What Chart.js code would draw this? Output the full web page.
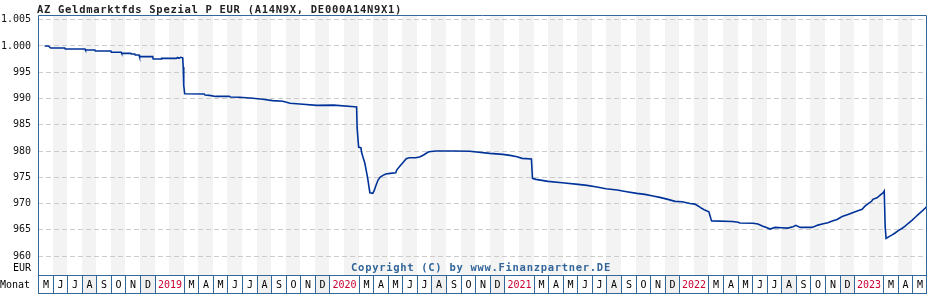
<!DOCTYPE html>
<html>
<head>
<meta charset="utf-8">
<script src="https://cdn.jsdelivr.net/npm/chart.js@4"></script>
<style>
html, body { margin: 0; padding: 0; background: #fff; }
canvas { display: block; }
</style>
</head>
<body>
<canvas id="chart" width="928" height="300"></canvas>
<script>
// DATEN
const title = "AZ Geldmarktfds Spezial P EUR (A14N9X, DE000A14N9X1)";
const copyright = "Copyright (C) by www.Finanzpartner.DE";

const dates = [
    "2018-05-15", "2018-05-23", "2018-05-28", "2018-06-26", "2018-06-27", "2018-08-08", "2018-08-09", "2018-08-29",
    "2018-08-30", "2018-10-01", "2018-10-02", "2018-10-23", "2018-10-24", "2018-11-12", "2018-11-13", "2018-11-20",
    "2018-11-21", "2018-11-29", "2018-11-30", "2018-12-28", "2018-12-29", "2019-01-15", "2019-01-16", "2019-02-15",
    "2019-02-17", "2019-02-20", "2019-02-23", "2019-02-27", "2019-02-28", "2019-03-01", "2019-03-03", "2019-04-13",
    "2019-04-15", "2019-04-24", "2019-05-07", "2019-06-05", "2019-06-07", "2019-06-26", "2019-07-24", "2019-08-14",
    "2019-09-04", "2019-09-25", "2019-10-10", "2019-10-31", "2019-12-05", "2020-01-10", "2020-02-22", "2020-02-26",
    "2020-02-27", "2020-03-01", "2020-03-06", "2020-03-07", "2020-03-10", "2020-03-14", "2020-03-17", "2020-03-20",
    "2020-03-23", "2020-03-25", "2020-03-31", "2020-04-03", "2020-04-07", "2020-04-11", "2020-04-15", "2020-04-21",
    "2020-04-27", "2020-05-06", "2020-05-18", "2020-05-20", "2020-05-27", "2020-06-02", "2020-06-09", "2020-06-15",
    "2020-06-29", "2020-07-08", "2020-07-16", "2020-07-25", "2020-07-31", "2020-08-11", "2020-09-15", "2020-10-20",
    "2020-12-01", "2020-12-29", "2021-01-13", "2021-01-28", "2021-02-07", "2021-02-25", "2021-02-27", "2021-03-06",
    "2021-04-01", "2021-04-30", "2021-06-03", "2021-06-21", "2021-07-12", "2021-07-31", "2021-08-24", "2021-09-13",
    "2021-10-04", "2021-10-21", "2021-11-07", "2021-11-21", "2021-12-08", "2021-12-23", "2022-01-07", "2022-01-24",
    "2022-02-03", "2022-02-10", "2022-02-16", "2022-02-22", "2022-03-02", "2022-03-06", "2022-03-08", "2022-04-21",
    "2022-05-02", "2022-05-06", "2022-06-03", "2022-06-13", "2022-06-23", "2022-07-02", "2022-07-08", "2022-07-19",
    "2022-08-02", "2022-08-15", "2022-08-26", "2022-09-01", "2022-09-10", "2022-10-04", "2022-10-11", "2022-10-17",
    "2022-10-26", "2022-11-07", "2022-11-16", "2022-11-26", "2022-12-02", "2022-12-08", "2022-12-19", "2022-12-30",
    "2023-01-09", "2023-01-18", "2023-01-24", "2023-01-31", "2023-02-07", "2023-02-09", "2023-02-17", "2023-02-23",
    "2023-03-01", "2023-03-03", "2023-03-05", "2023-03-07", "2023-03-15", "2023-03-19", "2023-03-26", "2023-04-02",
    "2023-04-10", "2023-04-16", "2023-04-22", "2023-04-30", "2023-05-07", "2023-05-13", "2023-05-22", "2023-05-28",
    "2023-05-31"
];

const prices = [
    1000.0, 1000.0, 999.62, 999.62, 999.43, 999.43, 999.24, 999.24,
    999.05, 999.05, 998.8, 998.8, 998.6, 998.6, 998.48, 998.48,
    998.29, 998.29, 997.97, 997.97, 997.52, 997.52, 997.65, 997.65,
    997.8, 997.65, 997.85, 997.75, 996.0, 992.5, 990.9, 990.86,
    990.67, 990.6, 990.4, 990.4, 990.3, 990.25, 990.04, 989.85,
    989.6, 989.47, 989.1, 988.95, 988.7, 988.75, 988.44, 988.4,
    984.4, 980.76, 980.6, 979.87, 978.91, 977.77, 976.38, 974.99,
    973.2, 972.06, 971.94, 972.44, 973.52, 974.48, 974.99, 975.37,
    975.62, 975.75, 975.85, 976.38, 977.14, 977.77, 978.53, 978.72,
    978.72, 978.91, 979.3, 979.81, 979.92, 980.0, 980.0, 979.95,
    979.56, 979.37, 979.18, 978.91, 978.61, 978.48, 974.8, 974.61,
    974.22, 973.96, 973.66, 973.47, 973.14, 972.82, 972.57, 972.25,
    971.94, 971.75, 971.43, 971.18, 970.8, 970.42, 970.34, 970.0,
    969.9, 969.5, 969.1, 968.76, 968.44, 967.2, 966.7, 966.6,
    966.45, 966.3, 966.25, 966.1, 965.7, 965.4, 965.14, 965.46,
    965.4, 965.33, 965.6, 965.85, 965.46, 965.46, 965.7, 965.9,
    966.1, 966.35, 966.67, 966.98, 967.3, 967.6, 967.94, 968.3,
    968.63, 968.9, 969.5, 970.0, 970.48, 970.8, 971.1, 971.6,
    972.06, 972.38, 965.6, 963.37, 963.8, 964.0, 964.4, 964.85,
    965.3, 965.7, 966.2, 966.8, 967.4, 967.9, 968.6, 969.1,
    969.4
];

const yTicks = [960, 965, 970, 975, 980, 985, 990, 995, 1000, 1005];
const monthLetters = ["J", "F", "M", "A", "M", "J", "J", "A", "S", "O", "N", "D"];
const startYear = 2018;
const startMonth = 5;
const monthCount = 61;

// HILFSFUNKTIONEN
function monthPos(str) {
    const [y, m, d] = str.split("-").map(Number);
    const days = new Date(y, m, 0).getDate();
    return (y - startYear) * 12 + (m - startMonth) + (d - 1) / days;
}

function fmt(v) {
    if (v >= 1000) return "1." + String(v - 1000).padStart(3, "0");
    return String(v);
}

const blue = "#336699";
const mono = "'DejaVu Sans Mono', monospace";

// DEKORATION
const decor = {
    id: "decor",
    beforeDraw(chart) {
        const { ctx, chartArea: a, scales: { x } } = chart;
        ctx.save();
        ctx.fillStyle = "#fff";
        ctx.fillRect(0, 0, chart.width, chart.height);
        for (let i = 0; i < monthCount; i++) {
            const cal = (startMonth - 1 + i) % 12 + 1;
            if (cal % 2 === 0) {
                const x0 = Math.round(x.getPixelForValue(i));
                const x1 = Math.round(x.getPixelForValue(i + 1));
                ctx.fillStyle = "#f3f3f3";
                ctx.fillRect(x0, a.top, x1 - x0, a.bottom - a.top);
            }
        }
        ctx.restore();
    },
    afterDraw(chart) {
        const { ctx, chartArea: a, scales: { x } } = chart;
        ctx.save();

        // Rahmen
        ctx.strokeStyle = blue;
        ctx.lineWidth = 1;
        ctx.beginPath();
        ctx.moveTo(a.left + 0.5, a.bottom);
        ctx.lineTo(a.left + 0.5, a.top + 0.5);
        ctx.lineTo(a.right - 0.5, a.top + 0.5);
        ctx.lineTo(a.right - 0.5, a.bottom);
        ctx.stroke();

        // Monatsleiste
        const top = Math.round(a.bottom);
        const h = 18;
        ctx.font = "10px " + mono;
        ctx.textAlign = "center";
        ctx.textBaseline = "middle";
        for (let i = 0; i < monthCount; i++) {
            const cal = (startMonth - 1 + i) % 12 + 1;
            if (cal === 2) continue;
            const span = cal === 1 ? 2 : 1;
            const x0 = Math.round(x.getPixelForValue(i));
            const x1 = Math.round(x.getPixelForValue(Math.min(i + span, monthCount)));
            ctx.fillStyle = (cal === 8 || cal === 12) ? "#f0f0f0" : "#fff";
            ctx.fillRect(x0, top, x1 - x0, h);
            ctx.strokeStyle = blue;
            ctx.strokeRect(x0 + 0.5, top + 0.5, x1 - x0 - 1 + (x1 >= a.right ? 0 : 1), h);
            const year = startYear + Math.floor((startMonth - 1 + i) / 12);
            if (cal === 1) {
                ctx.fillStyle = "#cc0033";
                ctx.fillText(String(year), (x0 + x1) / 2 + 0.5, top + h / 2 + 1);
            } else {
                ctx.fillStyle = "#000";
                ctx.fillText(monthLetters[cal - 1], (x0 + x1) / 2 + 0.5, top + h / 2 + 1);
            }
        }

        ctx.fillStyle = "#000";
        ctx.textAlign = "left";
        ctx.fillText("Monat", 0, top + h / 2 + 1);
        ctx.textAlign = "right";
        ctx.fillText("EUR", 31, 268);

        // Titel
        ctx.letterSpacing = "0.7px";
        ctx.font = "bold 10.5px " + mono;
        ctx.textAlign = "left";
        ctx.textBaseline = "alphabetic";
        ctx.fillStyle = "#222";
        ctx.fillText(title, 37, 12.5);

        // Copyright
        ctx.fillStyle = blue;
        ctx.textAlign = "center";
        ctx.fillText(copyright, 481, 271);
        ctx.letterSpacing = "0px";

        ctx.restore();
    }
};

// GRAFIK
const ctx = document.getElementById("chart");

new Chart(ctx, {
    type: "line",
    data: {
        datasets: [{
            data: dates.map((d, i) => ({ x: monthPos(d), y: prices[i] })),
            borderColor: "#003399",
            borderWidth: 1.6,
            pointRadius: 0,
            tension: 0,
            fill: false
        }]
    },
    options: {
        responsive: false,
        animation: false,
        events: [],
        layout: { padding: { left: 0, top: 15, right: 1, bottom: 25 } },
        plugins: {
            legend: { display: false },
            tooltip: { enabled: false }
        },
        scales: {
            x: { type: "linear", min: 0, max: monthCount, display: false },
            y: {
                min: 956.4,
                max: 1005.9,
                afterFit: s => { s.width = 38; },
                afterBuildTicks: s => { s.ticks = yTicks.map(v => ({ value: v })); },
                grid: { color: "#cccccc", drawTicks: false, lineWidth: 1 },
                border: { display: false, dash: [5, 3] },
                ticks: {
                    padding: 7,
                    color: "#111",
                    font: { family: "DejaVu Sans Mono", size: 10 },
                    callback: v => fmt(v)
                }
            }
        }
    },
    plugins: [decor]
});
</script>
</body>
</html>
